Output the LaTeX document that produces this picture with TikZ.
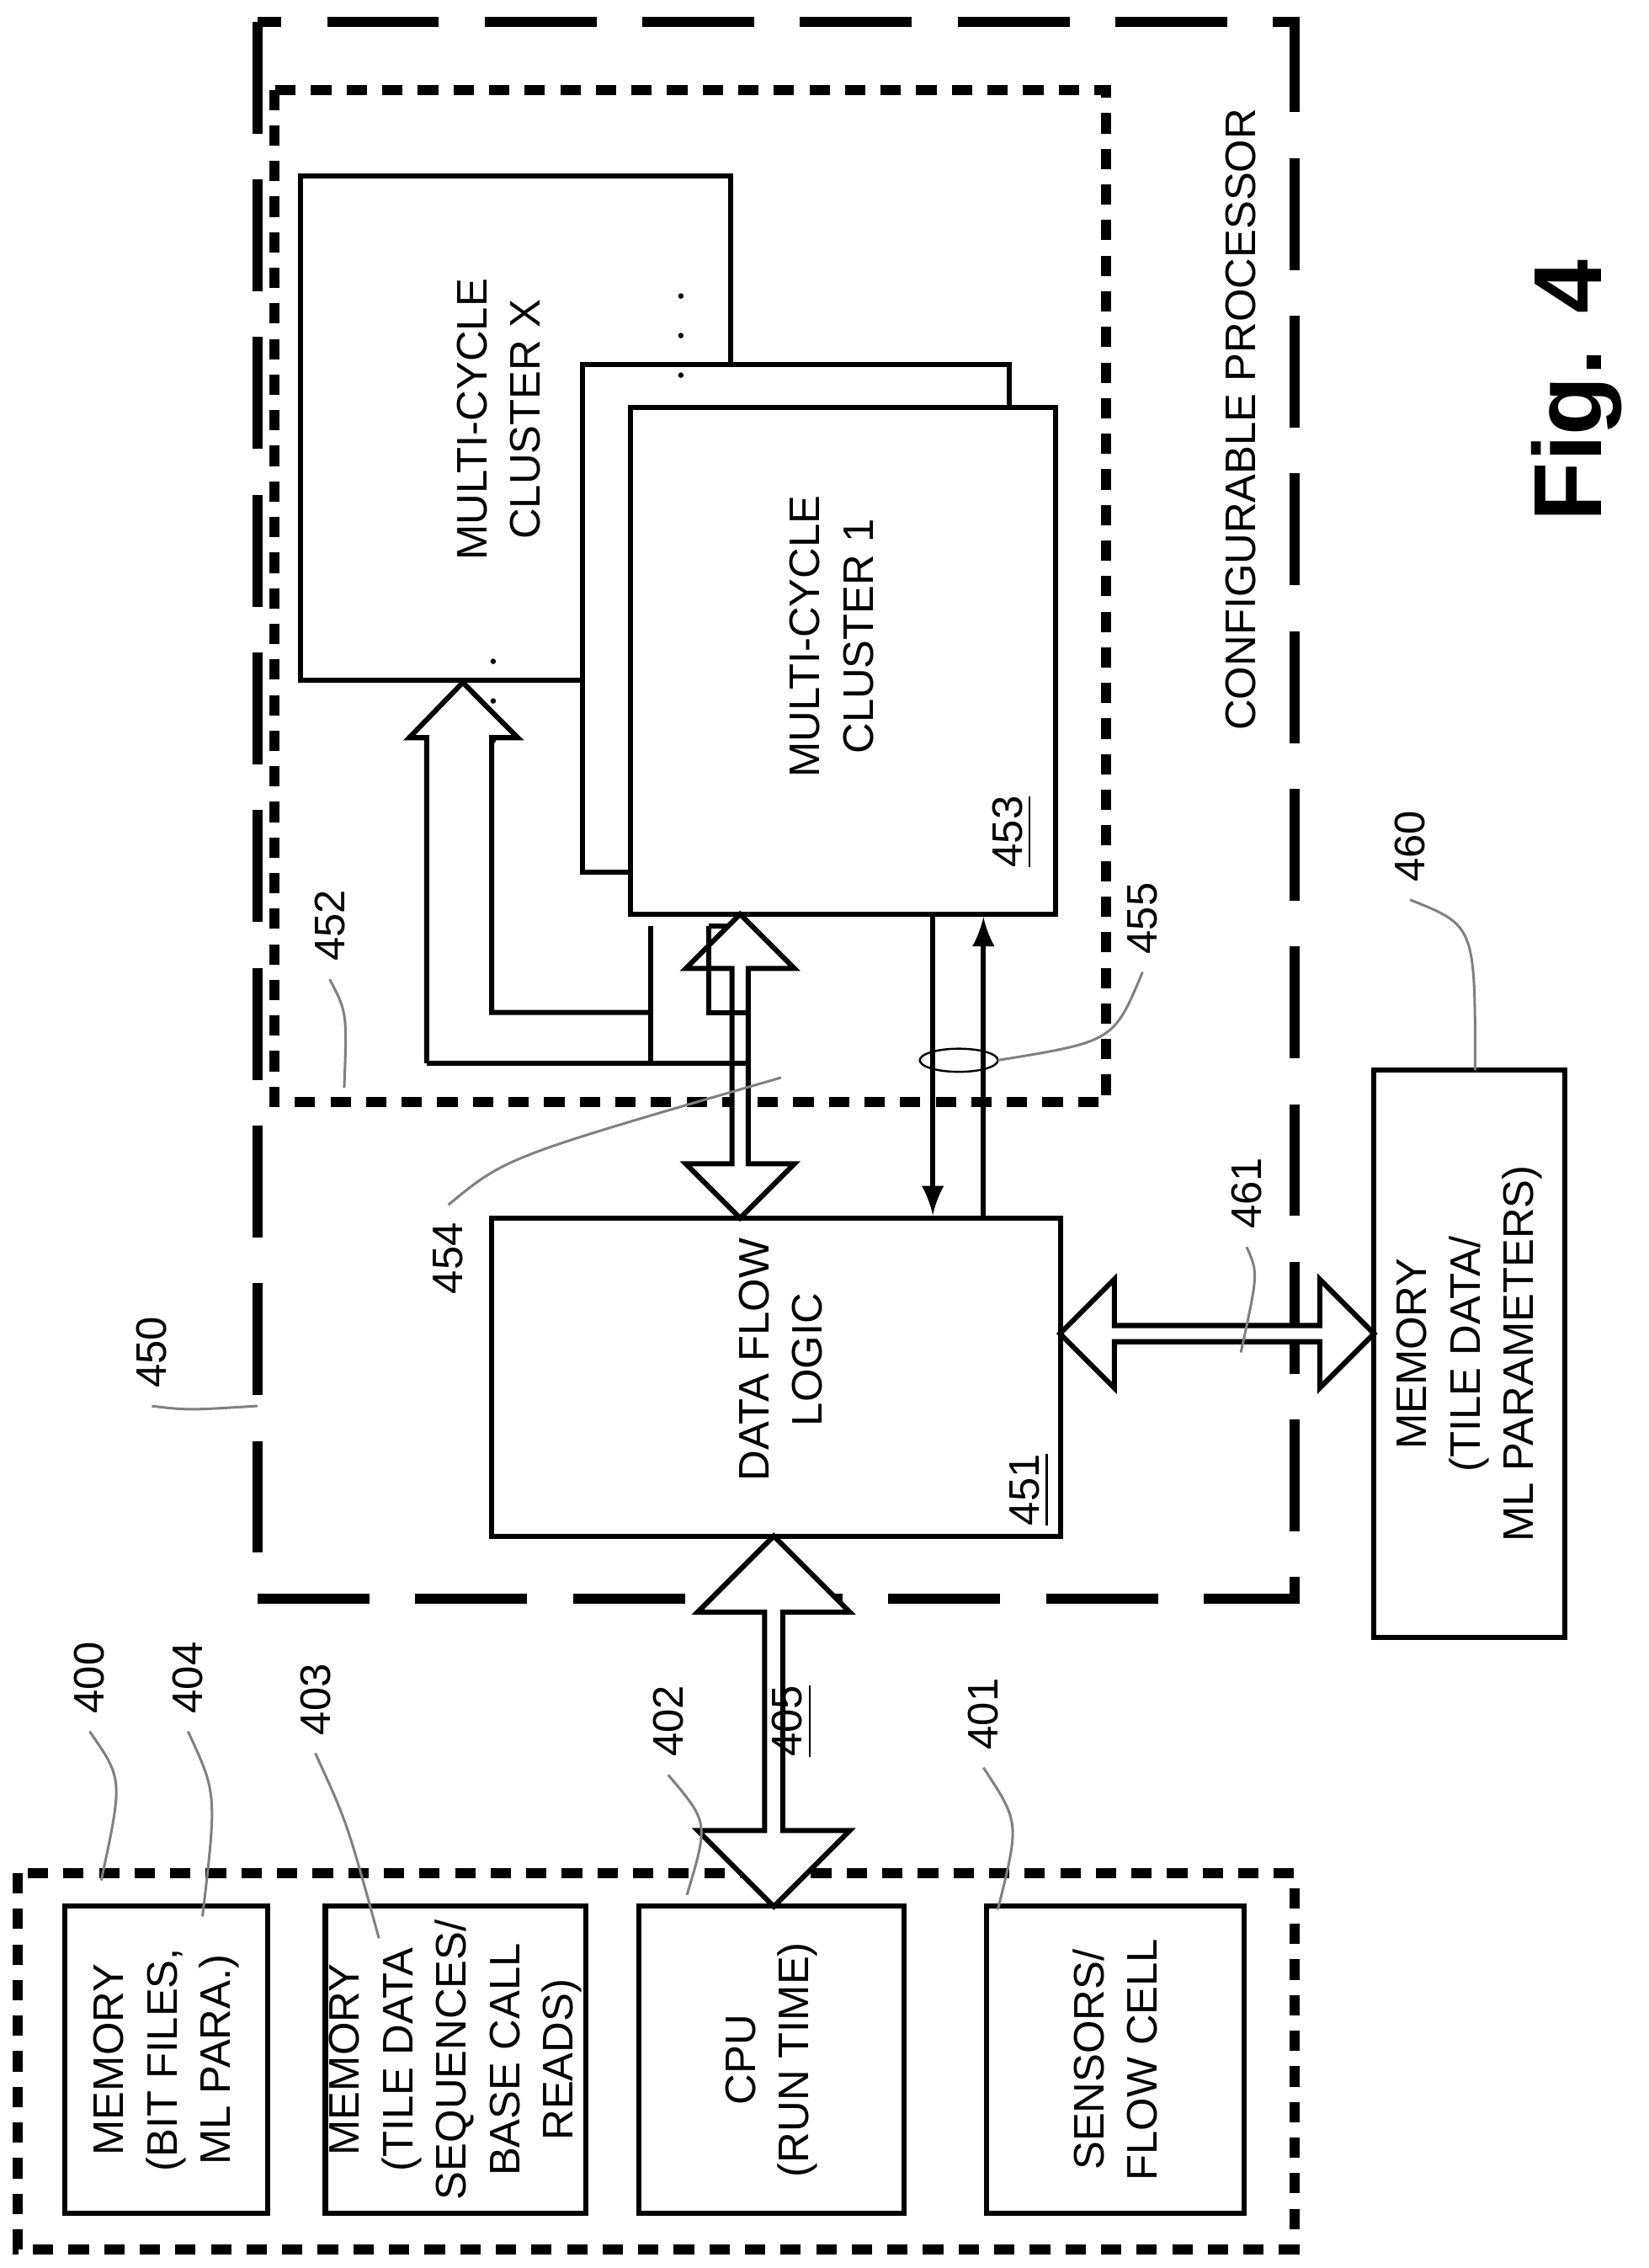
\documentclass[tikz,border=0pt]{standalone}
\usepackage{fontspec}
\setmainfont{Liberation Sans}
\usetikzlibrary{shapes.arrows,calc,positioning}

\begin{document}
\begin{tikzpicture}[x=0.01cm, y=-0.01cm,
  box/.style={rectangle, draw, line width=1pt, fill=white, inner sep=0pt},
  txt/.style={rotate=90, align=center, font=\fontsize{8.4}{10.5}\selectfont},
  num/.style={rotate=90, font=\fontsize{8.4}{10.5}\selectfont},
  lead/.style={draw, gray, line width=0.5pt},
  dbl/.style={double arrow, draw, line width=1pt, fill=white, minimum width=0.75cm,
    double arrow head extend=0.1cm, inner sep=0pt}
]
\useasboundingbox (0,0) rectangle (1140,1568);

% processor and cluster area
\draw[line width=2pt, dash pattern=on 22pt off 9pt] (178,15) rectangle (895,1105);
\draw[line width=2pt, dash pattern=on 4pt off 3pt] (190,62) rectangle (765,762);

\node[box, minimum width=2.97cm, minimum height=3.48cm] (clx) at (356.5,296) {};
\node[txt] at (345,290) {MULTI-CYCLE\\CLUSTER X};
\node[box, minimum width=2.95cm, minimum height=3.51cm] (clm) at (550.5,427.5) {};
\node[box, minimum width=2.94cm, minimum height=3.5cm] (cl1) at (583,457) {};
\node[txt] at (575,440) {MULTI-CYCLE\\CLUSTER 1};
\node[num] at (700,575) {\underline{453}};
\node[rotate=90] at (472,232) {$\cdot\ \cdot\ \cdot$};
\node[rotate=90] at (342,485) {$\cdot\ \cdot\ \cdot$};

\node[box, minimum width=3.93cm, minimum height=2.2cm] (dfl) at (536.5,952) {};
\node[txt] at (540,940) {DATA FLOW\\LOGIC};
\node[num] at (712,1030) {\underline{451}};

\node[box, minimum width=1.32cm, minimum height=3.92cm] (mem) at (1016,936) {};
\node[txt] at (1016,936) {MEMORY\\(TILE DATA/\\ML PARAMETERS)};

\node[txt] at (858,290) {CONFIGURABLE PROCESSOR};
\node[rotate=90, font=\fontsize{19}{22}\selectfont\bfseries] at (1090,270) {Fig. 4};

% host side
\draw[line width=2pt, dash pattern=on 4pt off 3pt] (12,1295) rectangle (895,1555);
\node[box, minimum width=1.4cm, minimum height=2.12cm] (mbit) at (115,1424) {};
\node[txt] at (115,1424) {MEMORY\\(BIT FILES,\\ML PARA.)};
\node[box, minimum width=1.8cm, minimum height=2.12cm] (mtile) at (315,1424) {};
\node[txt] at (315,1424) {MEMORY\\(TILE DATA\\SEQUENCES/\\BASE CALL\\READS)};
\node[box, minimum width=1.83cm, minimum height=2.12cm] (cpu) at (533.5,1424) {};
\node[txt] at (533.5,1424) {CPU\\(RUN TIME)};
\node[box, minimum width=1.78cm, minimum height=2.12cm] (sens) at (771,1424) {};
\node[txt] at (771,1424) {SENSORS/\\FLOW CELL};

% buses
\node[dbl, rotate=90, minimum height=2.56cm, minimum width=1.05cm,
  double arrow head extend=0.13cm] (b405) at ($(cpu.north)!0.5!(dfl.south)$) {};
\node[num] at (548,1190) {\underline{405}};
\node[dbl, rotate=90, minimum height=2.1cm] (b454) at ($(cl1.south)!0.5!(dfl.north)+(-48,0)$) {};
\node[dbl, minimum height=2.17cm] (b461) at ($(dfl.east)!0.5!(mem.west)+(0,-22)$) {};

\coordinate (dn) at (645,632);
\coordinate (up) at (680,842);
\draw[-latex, line width=1pt] (dn) -- (dn |- dfl.north);
\draw[-latex, line width=1pt] (up) -- (up |- cl1.south);

% fan-out bus to the other clusters
\draw[line width=1pt] (295,735) -- (295,510) -- (283,510) -- (clx.south -| 320,0) -- (358,510)
  -- (340,510) -- (340,700) -- (450,700);
\draw[line width=1pt] (295,735) -- (516,735);
\draw[line width=1pt] (450,640) -- (450,735);
\draw[line width=1pt] (490,640) -- (490,700) -- (516,700);
\draw[line width=1pt] (490,640) -- (503,640);

% reference numerals
\node[num] (l450) at (105,935) {450};
\draw[lead] (l450.west) .. controls (130,975) .. (178,972);
\node[num] (l452) at (228,640) {452};
\draw[lead] (l452.west) .. controls (240,700) .. (238,752);
\node[num] (l455) at (790,635) {455};
\draw (663,733) ellipse (27 and 8);
\draw[lead] (l455.west) .. controls (770,720) .. (690,733);
\node[num] (l454) at (310,870) {454};
\draw[lead] (l454.east) .. controls (350,800) .. (540,745);
\node[num] (l461) at (862,825) {461};
\draw[lead] (l461.west) .. controls (870,880) .. (858,935);
\node[num] (l460) at (975,585) {460};
\draw[lead] (l460.west) .. controls (1020,640) .. (1020,740);
\node[num] (l400) at (62,1160) {400};
\draw[lead] (l400.west) .. controls (85,1230) .. (70,1300);
\node[num] (l404) at (130,1160) {404};
\draw[lead] (l404.west) .. controls (150,1240) .. (140,1325);
\node[num] (l403) at (218,1175) {403};
\draw[lead] (l403.west) .. controls (240,1260) .. (262,1340);
\node[num] (l402) at (462,1190) {402};
\draw[lead] (l402.west) .. controls (490,1260) .. (475,1310);
\node[num] (l401) at (680,1185) {401};
\draw[lead] (l401.west) .. controls (705,1260) .. (690,1320);
\end{tikzpicture}
\end{document}
